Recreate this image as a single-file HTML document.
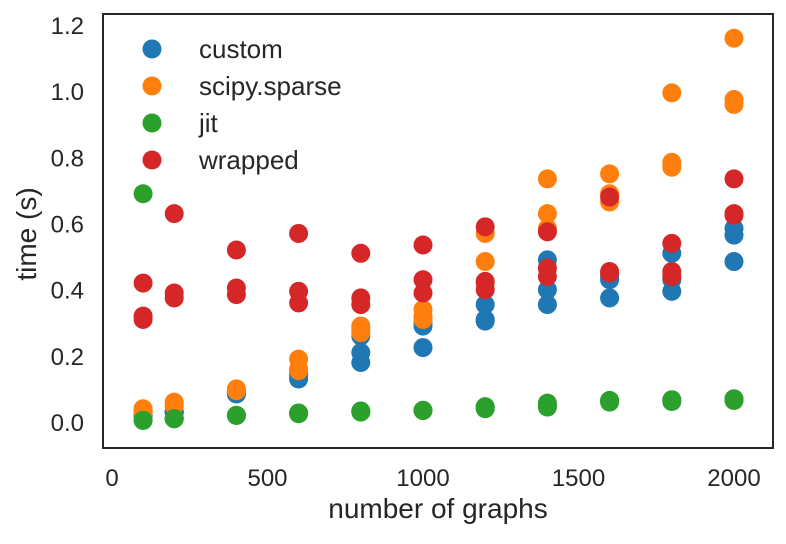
<!DOCTYPE html>
<html><head><meta charset="utf-8"><style>
html,body{margin:0;padding:0;background:#fff;}
svg text{font-family:"Liberation Sans","DejaVu Sans",sans-serif;fill:#262626;}
</style></head><body>
<svg id="chart" width="786" height="539" viewBox="0 0 786 539" xmlns="http://www.w3.org/2000/svg">
<rect x="0" y="0" width="786" height="539" fill="#fff"/>
<g id="marks"></g>
<g id="axes"></g>
<rect x="103" y="14" width="670" height="434" fill="none" stroke="#262626" stroke-width="2"/>
<text x="438" y="518" font-size="28" text-anchor="middle">number of graphs</text>
<text x="0" y="0" font-size="28" text-anchor="middle" transform="translate(36,234) rotate(-90)">time (s)</text>
<g id="legend"></g>
</svg>
<script>
const categories = [100,200,400,600,800,1000,1200,1400,1600,1800,2000];
const seriesNames = ["custom","scipy.sparse","jit","wrapped"];
const seriesColors = ["#1f77b4","#ff7f0e","#2ca02c","#d62728"];
const customVals = [[0.02,0.02,0.02],[0.03,0.03,0.03],[0.085,0.09,0.085],[0.13,0.15,0.14],[0.26,0.21,0.18],[0.30,0.29,0.225],[0.355,0.31,0.305],[0.49,0.40,0.355],[0.44,0.375,0.43],[0.51,0.43,0.395],[0.585,0.565,0.485]];
const scipyVals = [[0.04,0.03,0.03],[0.06,0.05,0.05],[0.10,0.095,0.095],[0.19,0.16,0.155],[0.29,0.28,0.27],[0.34,0.32,0.31],[0.57,0.485,0.42],[0.735,0.63,0.585],[0.75,0.69,0.665],[0.995,0.785,0.77],[1.16,0.975,0.96]];
const jitVals = [[0.69,0.005,0.005],[0.01,0.01,0.01],[0.02,0.02,0.02],[0.027,0.025,0.027],[0.033,0.03,0.033],[0.035,0.035,0.035],[0.046,0.04,0.046],[0.057,0.05,0.045],[0.065,0.06,0.065],[0.067,0.062,0.067],[0.07,0.065,0.07]];
const wrappedVals = [[0.42,0.32,0.31],[0.63,0.39,0.375],[0.52,0.405,0.385],[0.57,0.395,0.36],[0.51,0.375,0.355],[0.535,0.43,0.39],[0.59,0.425,0.40],[0.575,0.465,0.44],[0.68,0.455,0.45],[0.54,0.455,0.44],[0.735,0.63,0.625]];
const xTicks = [0,500,1000,1500,2000];
const yTicks = [0.0,0.2,0.4,0.6,0.8,1.0,1.2];
const yTickLabels = ["0.0","0.2","0.4","0.6","0.8","1.0","1.2"];

const NS="http://www.w3.org/2000/svg";
function xScale(v){return 112 + v*0.311;}
function yScale(v){return 422 - v*330.8;}
function mk(tag,attrs){const e=document.createElementNS(NS,tag);for(const k in attrs)e.setAttribute(k,attrs[k]);return e;}

const axes=document.getElementById('axes');
xTicks.forEach(function(t){
  const el=mk('text',{x:xScale(t),y:486,'font-size':24,'text-anchor':'middle'});
  el.textContent=String(t);
  
  
  axes.appendChild(el);
});
yTicks.forEach(function(t,i){
  const el=mk('text',{x:84,y:yScale(t)+9,'font-size':24,'text-anchor':'end'});
  el.textContent=yTickLabels[i];
  
  
  axes.appendChild(el);
});

const marks=document.getElementById('marks');
const allSeries=[customVals,scipyVals,jitVals,wrappedVals];
allSeries.forEach(function(vals,s){
  const g=mk('g',{});
  
  
  vals.forEach(function(arr,i){
    arr.forEach(function(v){
      const c=mk('circle',{cx:xScale(categories[i]),cy:yScale(v),r:9.5,fill:seriesColors[s]});
      
      
      g.appendChild(c);
    });
  });
  marks.appendChild(g);
});

const legend=document.getElementById('legend');
seriesNames.forEach(function(n,i){
  const y=49+i*37;
  const c=mk('circle',{cx:152,cy:y,r:9.5,fill:seriesColors[i]});
  
  
  legend.appendChild(c);
  const t=mk('text',{x:199,y:y+9,'font-size':26});
  t.textContent=n;
  
  
  legend.appendChild(t);
});
</script>
</body></html>
